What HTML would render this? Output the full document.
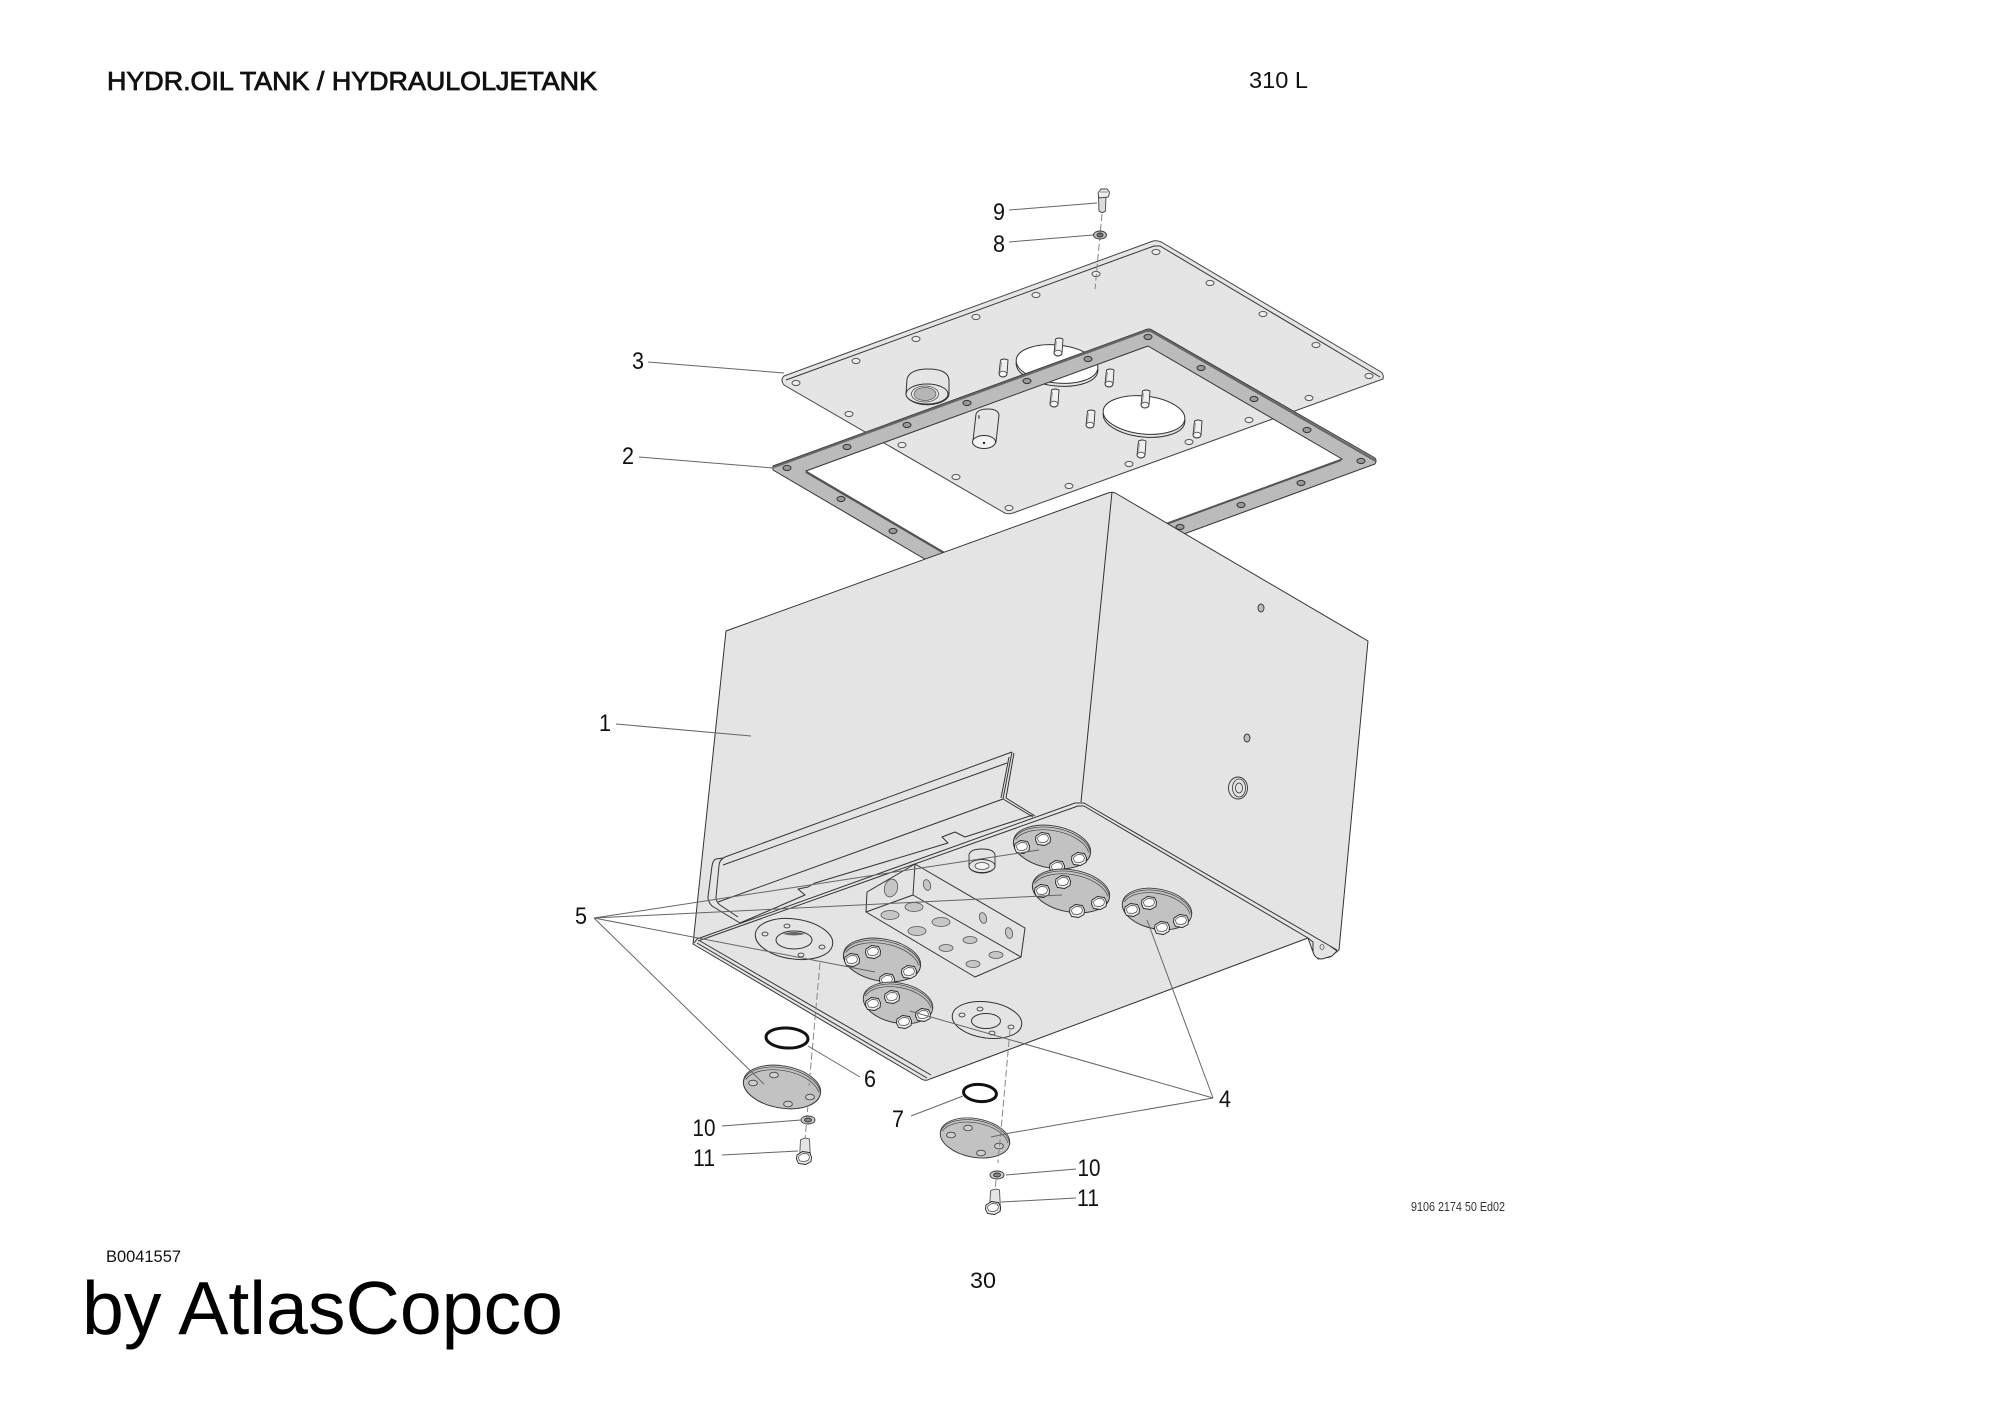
<!DOCTYPE html>
<html><head><meta charset="utf-8"><title>Hydr. oil tank</title>
<style>html,body{margin:0;padding:0;background:#fff}svg{display:block}
.l{font:24px "Liberation Sans",sans-serif;fill:#111;text-anchor:middle}
.t{font-family:"Liberation Sans",sans-serif;fill:#111}
.ld line,.ld polyline{stroke:#666;stroke-width:1;fill:none}
.e{fill:none;stroke:#333;stroke-width:1;stroke-linejoin:round}
.d{stroke:#888;stroke-width:1;stroke-dasharray:7 3;fill:none}
</style></head><body>
<svg xmlns="http://www.w3.org/2000/svg" width="2000" height="1414" viewBox="0 0 2000 1414">
<defs>
<ellipse id="ph" rx="4" ry="2.6" fill="#eee" stroke="#555" stroke-width="1"/>
<g id="gh"><ellipse rx="4" ry="2.6" fill="#999" stroke="#333" stroke-width="1"/></g>
<ellipse id="dh" rx="4.4" ry="2.8" fill="#cfcfcf" stroke="#444" stroke-width=".9"/>
<ellipse id="rh" rx="3" ry="1.9" fill="#e6e6e6" stroke="#444" stroke-width=".9"/>
<g id="pin"><path d="M-3.5,1 Q0,-1 4,1 L3,15 A4 3 0 0 1 -5,15 Z" fill="#efefef" stroke="#333" stroke-width=".9"/><ellipse cx="-1" cy="15" rx="3.8" ry="2.8" fill="#f6f6f6" stroke="#444" stroke-width=".8"/><line x1="-2.5" y1="3" x2="-3.5" y2="12" stroke="#999" stroke-width=".8"/></g>
<g id="bolt"><path d="M-7,-3 L-1.5,-6.5 L5.5,-5.5 L7.5,-1 L7,3.5 L1.5,6.5 L-5.5,5.5 L-7.5,1 Z" fill="#ececec" stroke="#222" stroke-width=".9"/><path d="M-5,-2 L-1,-4.5 L4,-4 L5.5,-1 L4.5,2 L1,3.5 L-4,3 L-5.5,0 Z" fill="#fff" stroke="#444" stroke-width=".7"/></g>
<g id="disc" transform="rotate(10)"><ellipse cx="0" cy="0" rx="39" ry="21" fill="#c2c2c2" stroke="#333" stroke-width="1"/><path d="M-38,-3 A39 21 0 0 1 38,-3 L39,0 A39 21 0 0 0 -39,0 Z" fill="#dcdcdc" stroke="#444" stroke-width=".8"/><path d="M-37,-1 A38 20 0 0 1 37,-1" fill="none" stroke="#444" stroke-width=".7"/></g>
<g id="stem"><path d="M-4.5,1 Q0,-2 4.5,0 L5.5,20 L-5.5,20 Z" fill="#e4e4e4" stroke="#555" stroke-width=".9"/></g>
</defs>
<rect width="2000" height="1414" fill="#fff"/>

<!-- top plate -->
<path d="M784,376 L1153,241 Q1158,240 1163,243 L1381,372 Q1384,374 1383,379 L1013,513 Q1007,515 1003,512 L784,385 Q780,380 784,376 Z" fill="#e5e5e5" stroke="#444" stroke-width="1"/>
<polyline class="e" points="786,380 1154,246 1160,246 1380,377"/>
<g fill="none">
<use href="#ph" x="796" y="383"/><use href="#ph" x="856" y="361"/><use href="#ph" x="916" y="339"/><use href="#ph" x="976" y="317"/><use href="#ph" x="1036" y="295"/><use href="#ph" x="1096" y="274"/><use href="#ph" x="1156" y="252"/><use href="#ph" x="1210" y="283"/><use href="#ph" x="1263" y="314"/><use href="#ph" x="1316" y="345"/><use href="#ph" x="1369" y="376"/><use href="#ph" x="1309" y="398"/><use href="#ph" x="1249" y="420"/><use href="#ph" x="1189" y="442"/><use href="#ph" x="1129" y="464"/><use href="#ph" x="1069" y="486"/><use href="#ph" x="1009" y="508"/><use href="#ph" x="956" y="477"/><use href="#ph" x="902" y="445"/><use href="#ph" x="849" y="414"/>
</g>
<g stroke="#333" stroke-width="1">
<ellipse cx="1057" cy="367" rx="41" ry="19" transform="rotate(6 1057 367)" fill="#e5e5e5"/>
<ellipse cx="1057" cy="364" rx="41" ry="19" transform="rotate(6 1057 364)" fill="#fff"/>
<ellipse cx="1144" cy="418" rx="41" ry="19" transform="rotate(6 1144 418)" fill="#e5e5e5"/>
<ellipse cx="1144" cy="415" rx="41" ry="19" transform="rotate(6 1144 415)" fill="#fff"/>
</g>
<use href="#pin" x="1059" y="338"/><use href="#pin" x="1004" y="359"/><use href="#pin" x="1110" y="369"/><use href="#pin" x="1055" y="389"/><use href="#pin" x="1091" y="410"/><use href="#pin" x="1146" y="390"/><use href="#pin" x="1198" y="420"/><use href="#pin" x="1142" y="440"/>
<!-- cylinders -->
<path d="M907,379 Q910,369 928,369 Q948,369 949,380 L949,393 A21 11 0 0 1 906,394 Z" fill="#e5e5e5" stroke="#333" stroke-width="1"/>
<ellipse cx="927" cy="394" rx="21" ry="10" fill="#e5e5e5" stroke="#333" stroke-width="1"/>
<ellipse cx="925" cy="394" rx="13.5" ry="8" fill="#ededed" stroke="#444" stroke-width=".8"/>
<ellipse cx="925" cy="394" rx="11" ry="6.5" fill="#b5b5b5" stroke="#555" stroke-width=".7"/>
<path d="M976,414 Q978,409 988,409 Q998,409 999,415 L996,442 A12 7 0 0 1 973,441 Z" fill="#e5e5e5" stroke="#333" stroke-width="1"/>
<ellipse cx="984" cy="442" rx="11.5" ry="6.5" fill="#f4f4f4" stroke="#333" stroke-width="1"/>
<circle cx="984" cy="443" r="1.2" fill="#222"/><ellipse cx="979" cy="417" rx="1" ry="2" fill="#777"/>

<!-- gasket -->
<path fill-rule="evenodd" d="M773,466 L1145,330 Q1149,328 1152,330 L1375,458 Q1377,461 1375,464 L998,602 L773,470 Z M806,471 L1000,585 L1342,459 L1148,346 Z" fill="#bbb" stroke="#333" stroke-width="1"/>
<polyline points="774,467 1146,331 1151,331 1376,461" fill="none" stroke="#666" stroke-width="2.2"/>
<line x1="806" y1="472" x2="944" y2="553" stroke="#555" stroke-width="2"/>
<line x1="1341" y1="460" x2="1166" y2="524" stroke="#555" stroke-width="2"/>
<use href="#gh" x="787" y="468"/><use href="#gh" x="847" y="447"/><use href="#gh" x="907" y="425"/><use href="#gh" x="967" y="403"/><use href="#gh" x="1027" y="381"/><use href="#gh" x="1088" y="359"/><use href="#gh" x="1148" y="337"/><use href="#gh" x="1201" y="368"/><use href="#gh" x="1254" y="399"/><use href="#gh" x="1307" y="430"/><use href="#gh" x="1361" y="461"/><use href="#gh" x="1301" y="483"/><use href="#gh" x="1241" y="505"/><use href="#gh" x="1180" y="527"/><use href="#gh" x="841" y="499"/><use href="#gh" x="893" y="531"/>

<!-- tank -->
<path d="M726,631 L1108,493 Q1113,491 1117,494 L1368,641 L1339,950 L1330,957 L1318,959 L1313,952 L1308,938 L930,1079 Q925,1082 920,1078 L693,944 Z" fill="#e4e4e4" stroke="#333" stroke-width="1" stroke-linejoin="round"/>
<line x1="1112" y1="492" x2="1081" y2="802" stroke="#333" stroke-width="1"/>
<path d="M1308,938 L1313,942 L1313,952 Q1315,959 1322,959 L1332,956 L1337,951 L1330,946" fill="#e4e4e4" stroke="#333" stroke-width="1"/>
<ellipse cx="1322" cy="947" rx="2" ry="2.5" fill="none" stroke="#555" stroke-width=".8"/>
<ellipse cx="1261" cy="608" rx="3" ry="4" fill="#bbb" stroke="#333" stroke-width=".9"/>
<ellipse cx="1247" cy="738" rx="3" ry="4" fill="#bbb" stroke="#333" stroke-width=".9"/>
<ellipse cx="1238" cy="788" rx="9.5" ry="11" fill="#e4e4e4" stroke="#333" stroke-width=".9"/>
<ellipse cx="1239" cy="788" rx="6.5" ry="9" fill="none" stroke="#333" stroke-width=".8"/>
<ellipse cx="1239" cy="788" rx="3.5" ry="5" fill="none" stroke="#333" stroke-width=".8"/>

<!-- bracket -->
<g class="e">
<path d="M1012,752 L725,857 Q719,860 719,866 L716,897 Q716,902 720,905 L738,917"/>
<polyline points="1007,763 723,865"/>
<polyline points="1012,752 1003,799 1033,817"/>
<polyline points="1014,753 1006,798 1035,816"/>
<polyline points="1009,757 1001,798"/>
<polyline points="1003,799 718,902"/>
<path d="M723,858 L716,859 Q713,860 712,866 L708,897 Q708,902 712,906 L740,923"/>
<polyline points="1033,815 965,837 955,832 942,837 948,843 815,883 808,887 798,889 805,895 740,923"/>
<polyline points="694,943 697,939 1075,803 1084,803 1337,950"/>
<polyline points="698,941 1078,806 1084,806 1308,938"/>
<polyline points="697,943 927,1078"/>
<polyline points="700,941 931,1075"/>
</g>

<!-- manifold -->
<path d="M867,892 L915,864 L1025,928 L1021,957 L975,977 L866,912 Z" class="e" style="fill:#e4e4e4"/>
<polyline class="e" points="866,912 913,895 1021,957"/><line class="e" x1="915" y1="864" x2="913" y2="895"/>
<g fill="#c6c6c6" stroke="#555" stroke-width=".8">
<ellipse cx="891" cy="888" rx="6.5" ry="9" transform="rotate(15 891 888)"/>
<ellipse cx="927" cy="885" rx="3.5" ry="5.5" transform="rotate(-15 927 885)"/>
<ellipse cx="983" cy="918" rx="3.5" ry="5.5" transform="rotate(-15 983 918)"/>
<ellipse cx="1009" cy="933" rx="3.5" ry="5.5" transform="rotate(-15 1009 933)"/>
<ellipse cx="890" cy="915" rx="9" ry="4.5"/><ellipse cx="914" cy="907" rx="9" ry="4.5"/><ellipse cx="941" cy="922" rx="9" ry="4.5"/><ellipse cx="917" cy="931" rx="9" ry="4.5"/>
<ellipse cx="970" cy="940" rx="7" ry="3.5"/><ellipse cx="946" cy="948" rx="7" ry="3.5"/><ellipse cx="996" cy="955" rx="7" ry="3.5"/><ellipse cx="973" cy="964" rx="7" ry="3.5"/>
</g>
<!-- small boss -->
<path d="M969,855 Q970,849 982,849 Q994,849 995,855 L995,866 A13 7 0 0 1 969,866 Z" fill="#e4e4e4" stroke="#333" stroke-width=".9"/>
<ellipse cx="982" cy="866" rx="13" ry="6.5" fill="#e4e4e4" stroke="#333" stroke-width=".9"/><ellipse cx="982" cy="866" rx="7" ry="3.5" fill="#f2f2f2" stroke="#444" stroke-width=".8"/>

<!-- flange rings -->
<ellipse cx="794" cy="939" rx="39" ry="20" transform="rotate(8 794 939)" fill="#e4e4e4" stroke="#333"/>
<ellipse cx="794" cy="940" rx="18" ry="9" fill="#e4e4e4" stroke="#333"/>
<path d="M783,934 Q794,930 805,934 Q794,937 783,934 Z" fill="#666"/>
<use href="#rh" x="765" y="934"/><use href="#rh" x="787" y="926"/><use href="#rh" x="822" y="947"/><use href="#rh" x="801" y="955"/>
<ellipse cx="987" cy="1020" rx="35" ry="18" transform="rotate(8 987 1020)" fill="#e4e4e4" stroke="#333"/>
<ellipse cx="986" cy="1021" rx="14.5" ry="7.5" fill="#e4e4e4" stroke="#333"/>
<use href="#rh" x="962" y="1015"/><use href="#rh" x="980" y="1009"/><use href="#rh" x="1011" y="1027"/><use href="#rh" x="992" y="1033"/>

<!-- bolted covers -->
<use href="#disc" transform="translate(882,960)"/>
<use href="#bolt" x="873" y="952"/><use href="#bolt" x="852" y="960"/><use href="#bolt" x="909" y="972"/><use href="#bolt" x="887" y="980"/>
<use href="#disc" transform="translate(898,1003) scale(.9,.95)"/>
<use href="#bolt" x="892" y="997"/><use href="#bolt" x="873" y="1004"/><use href="#bolt" x="923" y="1015"/><use href="#bolt" x="904" y="1022"/>
<use href="#disc" transform="translate(1052,847)"/>
<use href="#bolt" x="1043" y="839"/><use href="#bolt" x="1022" y="847"/><use href="#bolt" x="1079" y="859"/><use href="#bolt" x="1057" y="867"/>
<use href="#disc" transform="translate(1071,891)"/>
<use href="#bolt" x="1063" y="882"/><use href="#bolt" x="1042" y="891"/><use href="#bolt" x="1099" y="903"/><use href="#bolt" x="1077" y="911"/>
<use href="#disc" transform="translate(1157,909) scale(.9,.95)"/>
<use href="#bolt" x="1149" y="903"/><use href="#bolt" x="1132" y="910"/><use href="#bolt" x="1181" y="921"/><use href="#bolt" x="1162" y="928"/>

<!-- loose covers -->
<use href="#disc" transform="translate(782,1087)"/>
<use href="#dh" x="753" y="1083"/><use href="#dh" x="774" y="1075"/><use href="#dh" x="810" y="1097"/><use href="#dh" x="788" y="1104"/>
<use href="#disc" transform="translate(975,1138) scale(.9,.92)"/>
<use href="#dh" x="951" y="1135"/><use href="#dh" x="968" y="1128"/><use href="#dh" x="999" y="1146"/><use href="#dh" x="981" y="1153"/>

<!-- dashed axes -->
<line class="d" x1="1102" y1="214" x2="1095" y2="289"/>
<line class="d" x1="820" y1="963" x2="809" y2="1086"/>
<line class="d" x1="808" y1="1105" x2="805" y2="1140"/>
<line class="d" x1="1010" y1="1030" x2="998" y2="1163"/>
<line class="d" x1="996" y1="1180" x2="995" y2="1190"/>

<!-- O-rings -->
<ellipse cx="787" cy="1038" rx="21" ry="10" fill="none" stroke="#111" stroke-width="3" transform="rotate(3 787 1038)"/>
<ellipse cx="980" cy="1093" rx="16.5" ry="8.5" fill="none" stroke="#111" stroke-width="3" transform="rotate(5 980 1093)"/>

<!-- washers -->
<g stroke="#333" stroke-width=".9">
<ellipse cx="1100" cy="235" rx="6.5" ry="4" fill="#bbb"/><ellipse cx="1100" cy="235" rx="3" ry="2" fill="#777"/>
<ellipse cx="808" cy="1120" rx="7" ry="4" fill="#ccc"/><ellipse cx="808" cy="1120" rx="3.5" ry="2" fill="#888"/>
<ellipse cx="997" cy="1175" rx="7" ry="4" fill="#ccc"/><ellipse cx="997" cy="1175" rx="3.5" ry="2" fill="#888"/>
</g>
<!-- screws -->
<path d="M1098.5,196 L1106,196 L1105.5,211 Q1102,214 1099,211 Z" fill="#ddd" stroke="#444" stroke-width=".9"/>
<path d="M1098,193 L1101,189 L1107,189 L1109.5,192 L1108.5,197 L1099,198 Z" fill="#eee" stroke="#444" stroke-width=".9"/>
<line x1="1100" y1="192" x2="1108" y2="192" stroke="#666" stroke-width=".7"/>
<use href="#stem" x="805" y="1139"/><use href="#bolt" x="804" y="1158"/>
<use href="#stem" x="995" y="1190"/><use href="#bolt" x="993" y="1208"/>

<!-- leaders -->
<g class="ld">
<line x1="1009" y1="210" x2="1097" y2="203"/>
<line x1="1009" y1="242" x2="1093" y2="235"/>
<line x1="648" y1="362" x2="784" y2="373"/>
<line x1="639" y1="457" x2="773" y2="468"/>
<line x1="616" y1="724" x2="751" y2="736"/>
<line x1="594" y1="918" x2="1039" y2="850"/>
<line x1="594" y1="918" x2="1062" y2="895"/>
<line x1="594" y1="918" x2="875" y2="972"/>
<line x1="594" y1="918" x2="764" y2="1084"/>
<line x1="808" y1="1046" x2="860" y2="1077"/>
<line x1="911" y1="1116" x2="963" y2="1096"/>
<line x1="722" y1="1126" x2="801" y2="1120"/>
<line x1="722" y1="1155" x2="798" y2="1151"/>
<line x1="1213" y1="1098" x2="1147" y2="920"/>
<line x1="1213" y1="1098" x2="910" y2="1011"/>
<polyline points="1213,1098 1010,1133 991,1137"/>
<line x1="1006" y1="1175" x2="1076" y2="1169"/>
<line x1="1001" y1="1202" x2="1076" y2="1198"/>
</g>

<!-- labels -->
<text class="l" x="999" y="220" textLength="12" lengthAdjust="spacingAndGlyphs">9</text>
<text class="l" x="999" y="252" textLength="12" lengthAdjust="spacingAndGlyphs">8</text>
<text class="l" x="638" y="369" textLength="12" lengthAdjust="spacingAndGlyphs">3</text>
<text class="l" x="628" y="464" textLength="12" lengthAdjust="spacingAndGlyphs">2</text>
<text class="l" x="605" y="731" textLength="12" lengthAdjust="spacingAndGlyphs">1</text>
<text class="l" x="581" y="924" textLength="12" lengthAdjust="spacingAndGlyphs">5</text>
<text class="l" x="870" y="1087" textLength="12" lengthAdjust="spacingAndGlyphs">6</text>
<text class="l" x="898" y="1127" textLength="12" lengthAdjust="spacingAndGlyphs">7</text>
<text class="l" x="704" y="1136" textLength="23" lengthAdjust="spacingAndGlyphs">10</text>
<text class="l" x="704" y="1166" textLength="22" lengthAdjust="spacingAndGlyphs">11</text>
<text class="l" x="1225" y="1107" textLength="12" lengthAdjust="spacingAndGlyphs">4</text>
<text class="l" x="1089" y="1176" textLength="23" lengthAdjust="spacingAndGlyphs">10</text>
<text class="l" x="1088" y="1206" textLength="22" lengthAdjust="spacingAndGlyphs">11</text>

<text class="t" x="107" y="90" font-size="25.5" textLength="490" lengthAdjust="spacingAndGlyphs" stroke="#111" stroke-width=".8">HYDR.OIL TANK / HYDRAULOLJETANK</text>
<text class="t" x="1249" y="88" font-size="23" textLength="59" lengthAdjust="spacingAndGlyphs">310 L</text>
<text class="t" x="106" y="1262" font-size="16.5" textLength="75" lengthAdjust="spacingAndGlyphs">B0041557</text>
<text class="t" x="82" y="1334" font-size="75" textLength="481" lengthAdjust="spacingAndGlyphs" style="fill:#000">by AtlasCopco</text>
<text class="t" x="970" y="1288" font-size="22.5" textLength="26" lengthAdjust="spacingAndGlyphs">30</text>
<text class="t" x="1411" y="1211" font-size="12.5" textLength="94" lengthAdjust="spacingAndGlyphs" style="fill:#333">9106 2174 50 Ed02</text>
</svg>
</body></html>
